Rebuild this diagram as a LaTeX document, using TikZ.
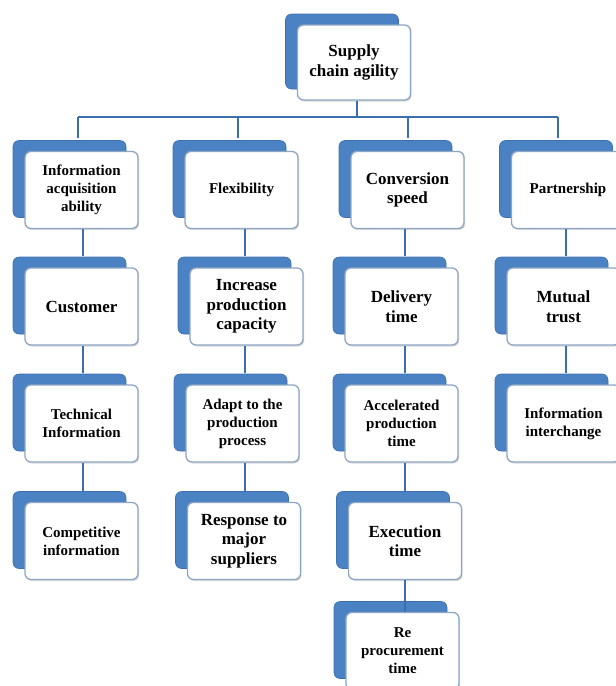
\documentclass[tikz,border=0pt]{standalone}
\usepackage{fontspec}
\setmainfont{Liberation Serif}
\usetikzlibrary{shadows,calc}
\definecolor{backblue}{HTML}{4A82C4}
\definecolor{backedge}{HTML}{3C70B0}
\definecolor{frontedge}{HTML}{8EA6C4}
\definecolor{linkblue}{HTML}{3A6FAD}
\tikzset{
  card/.style={draw=frontedge, line width=1.3pt, fill=white, rounded corners=6pt,
    minimum width=113pt, minimum height=77pt, align=center, inner sep=2pt,
    copy shadow={shadow xshift=-12pt, shadow yshift=11pt, fill=backblue, draw=backedge, line width=0.6pt},
    drop shadow={shadow xshift=1.2pt, shadow yshift=-1.5pt, fill=black!30, opacity=0.5}},
  big/.style={card, font=\bfseries\fontsize{17}{19.5}\selectfont},
  small/.style={card, font=\bfseries\fontsize{15}{18}\selectfont},
  link/.style={draw=linkblue, line width=1.6pt},
}
\begin{document}
\begin{tikzpicture}[x=1pt, y=-1pt]
\useasboundingbox (0,0) rectangle (616,686);
% level 0
\node[big, minimum height=75pt] (top) at (354,62.5) {Supply\\chain agility};
% level 1
\node[small] (info) at (81.5,190) {Information\\acquisition\\ability};
\node[small] (flex) at (241.5,190) {Flexibility};
\node[big]   (conv) at (407.5,190) {Conversion\\speed};
\node[small] (part) at (568,190) {Partnership};
% level 2
\node[big] (cust) at (81.5,306.5) {Customer};
\node[big] (incr) at (246.5,306.5) {Increase\\production\\capacity};
\node[big] (deliv) at (401.5,306.5) {Delivery\\time};
\node[big] (mutual) at (563.5,306.5) {Mutual\\trust};
% level 3
\node[small] (tech) at (81.5,423.5) {Technical\\Information};
\node[small] (adapt) at (242.5,423.5) {Adapt to the\\production\\process};
\node[small] (accel) at (401.5,423.5) {Accelerated\\production\\time};
\node[small] (inter) at (563.5,423.5) {Information\\interchange};
% level 4
\node[small] (comp) at (81.5,541) {Competitive\\information};
\node[big] (resp) at (244,541) {Response to\\major\\suppliers};
\node[big] (exec) at (405,541) {Execution\\time};
% level 5
\node[small] (reproc) at (402.5,651) {Re\\procurement\\time};
% bus
\coordinate (busL) at (78,117);
\coordinate (busR) at (558,117);
\coordinate (d2) at (238,117);
\coordinate (d3) at (408,117);
\coordinate (stem) at (357,117);
\draw[link] (top.south -| stem) -- (stem);
\draw[link] (busL) -- (busR);
\draw[link] (busL) -- ($(busL |- info.north)+(0,-13)$);
\draw[link] (d2) -- ($(d2 |- flex.north)+(0,-13)$);
\draw[link] (d3) -- ($(d3 |- conv.north)+(0,-13)$);
\draw[link] (busR) -- ($(busR |- part.north)+(0,-13)$);
% column x positions
\coordinate (c1) at (83,0);
\coordinate (c2) at (245,0);
\coordinate (c3) at (405,0);
\coordinate (c4) at (566,0);
% columns
\draw[link] (info.south -| c1) -- ($(c1 |- cust.north)+(0,-11)$);
\draw[link] (cust.south -| c1) -- ($(c1 |- tech.north)+(0,-11)$);
\draw[link] (tech.south -| c1) -- ($(c1 |- comp.north)+(0,-11)$);
\draw[link] (flex.south -| c2) -- ($(c2 |- incr.north)+(0,-11)$);
\draw[link] (incr.south -| c2) -- ($(c2 |- adapt.north)+(0,-11)$);
\draw[link] (adapt.south -| c2) -- ($(c2 |- resp.north)+(0,-11)$);
\draw[link] (conv.south -| c3) -- ($(c3 |- deliv.north)+(0,-11)$);
\draw[link] (deliv.south -| c3) -- ($(c3 |- accel.north)+(0,-11)$);
\draw[link] (accel.south -| c3) -- ($(c3 |- exec.north)+(0,-11)$);
\draw[link] (exec.south -| c3) -- (c3 |- reproc.north);
\draw[link] (part.south -| c4) -- ($(c4 |- mutual.north)+(0,-11)$);
\draw[link] (mutual.south -| c4) -- ($(c4 |- inter.north)+(0,-11)$);
\end{tikzpicture}
\end{document}
